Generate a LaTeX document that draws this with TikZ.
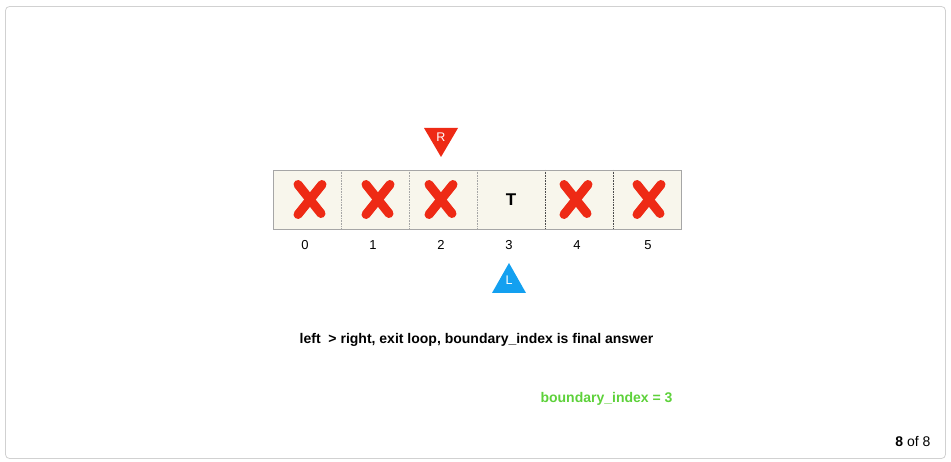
\documentclass[tikz,border=0pt]{standalone}
\usepackage{fontspec}
\setmainfont{Liberation Sans}
\definecolor{xred}{HTML}{EE2A15}
\definecolor{lblue}{HTML}{13A0F0}
\definecolor{cellbg}{HTML}{F8F6EC}
\definecolor{gtext}{HTML}{5DD13A}
\begin{document}
\begin{tikzpicture}[x=1pt,y=-1pt,
  cellbox/.style={draw=none,fill=cellbg,minimum width=68pt,minimum height=59pt,inner sep=0pt,outer sep=0pt},
  idx/.style={font=\fontsize{13}{15}\selectfont,anchor=base,inner sep=0pt},
  xmark/.style={draw=xred,line width=9pt,line cap=round},
  ptrlabel/.style={text=white,font=\fontsize{12.5}{14}\selectfont,inner sep=0pt}
]
\useasboundingbox (0,0) rectangle (951,462);
\draw[draw=black!18,rounded corners=4pt,line width=0.8pt] (5.5,6.5) rectangle (945.5,458.5);
% cells
\foreach \i in {0,...,5}{
  \node[cellbox] (c\i) at ({307+68*\i},199.5) {};
}
\node[font=\fontsize{17}{18}\selectfont\bfseries] (t3) at (c3) {T};
% dividers
\foreach \a in {0,1,2}{
  \draw[black!35,densely dotted,line width=0.6pt] (c\a.north east) -- (c\a.south east);
}
\foreach \a in {3,4}{
  \draw[black!70,densely dotted,line width=0.6pt] (c\a.north east) -- (c\a.south east);
}
\draw[black!35,line width=0.9pt] (c0.north west) rectangle (c5.south east);
% crosses
\foreach \i/\dx in {0/3,1/3,2/-2,4/-3,5/2}{
  \draw[xmark] ([shift={(\dx-12,-15)}]c\i.center) -- ([shift={(\dx+11,14)}]c\i.center);
  \draw[xmark] ([shift={(\dx+12,-15)}]c\i.center) -- ([shift={(\dx-12,15)}]c\i.center);
}
% indices
\foreach \i/\xx in {0/305,1/373,2/441,3/509,4/577,5/648}{
  \node[idx] (n\i) at (\xx,250) {\i};
}
% pointers
\fill[xred] (424,128) -- (458,128) -- (441,157) -- cycle;
\node[ptrlabel] (R) at (441,137.5) {R};
\fill[lblue] (509,263) -- (526,293) -- (492,293) -- cycle;
\node[ptrlabel] (L) at (509,280.5) {L};
% text
\node[font=\fontsize{14}{16}\selectfont\bfseries] (msg) at (476.5,339.5) {left\ \ > right, exit loop, boundary\_index is final answer};
\node[font=\fontsize{14}{16}\selectfont\bfseries,text=gtext] (ans) at (606.5,398.5) {boundary\_index = 3};
\node[font=\fontsize{14}{16}\selectfont] (pg) at (913,442) {\textbf{8} of 8};
\end{tikzpicture}
\end{document}
